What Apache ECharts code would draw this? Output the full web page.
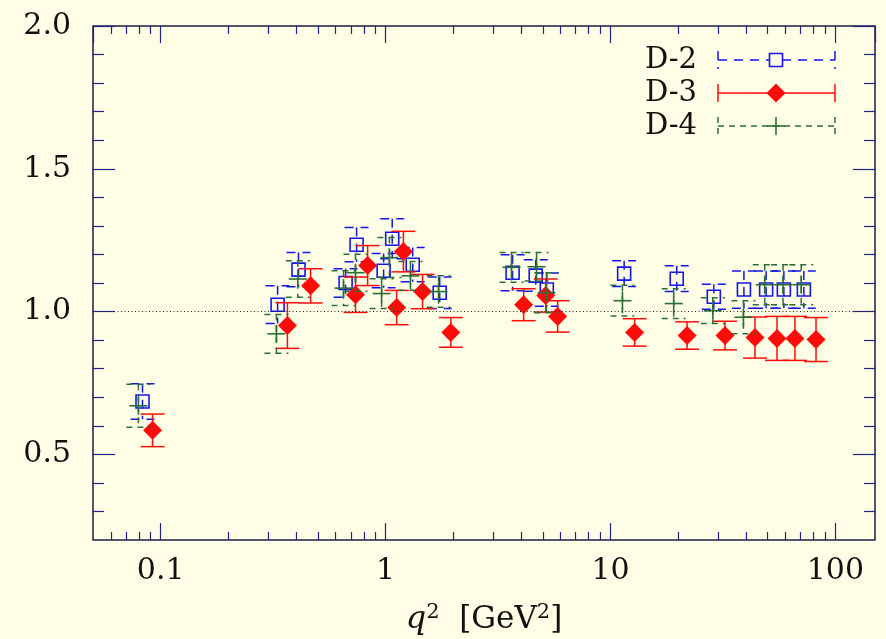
<!DOCTYPE html>
<html>
<head>
<meta charset="utf-8">
<script src="https://cdn.jsdelivr.net/npm/echarts@6/dist/echarts.min.js"></script>
<style>
html,body{margin:0;padding:0;background:#fefee6;}
#chart{width:886px;height:639px;}
</style>
</head>
<body>
<div id="chart"></div>
<script>
// ---- data ----
const d2X = [0.083, 0.331, 0.41, 0.664, 0.743, 0.98, 1.07, 1.32, 1.74, 3.67, 4.65, 5.21, 11.5, 19.7, 28.8, 39.2, 49.2, 59, 72.4];
const d2Y = [0.685, 1.024, 1.147, 1.10, 1.234, 1.143, 1.255, 1.164, 1.066, 1.136, 1.126, 1.077, 1.133, 1.115, 1.052, 1.077, 1.077, 1.077, 1.077];
const d2E = [0.062, 0.066, 0.06, 0.05, 0.06, 0.06, 0.07, 0.06, 0.055, 0.063, 0.055, 0.058, 0.045, 0.045, 0.044, 0.065, 0.065, 0.065, 0.065];

const d3X = [0.092, 0.366, 0.464, 0.735, 0.832, 1.12, 1.20, 1.46, 1.95, 4.11, 5.15, 5.82, 12.8, 21.9, 32.3, 43.9, 55, 66.1, 82];
const d3Y = [0.584, 0.951, 1.09, 1.059, 1.161, 1.014, 1.21, 1.07, 0.927, 1.024, 1.056, 0.983, 0.927, 0.916, 0.916, 0.909, 0.906, 0.906, 0.902];
const d3E = [0.057, 0.08, 0.06, 0.062, 0.07, 0.06, 0.071, 0.06, 0.052, 0.056, 0.058, 0.055, 0.048, 0.048, 0.05, 0.072, 0.077, 0.077, 0.077];

const d4X = [0.0796, 0.327, 0.407, 0.65, 0.735, 0.96, 1.04, 1.29, 1.72, 3.63, 4.69, 5.19, 11.3, 19.1, 28.5, 39, 48.5, 58.5, 70.5];
const d4Y = [0.67, 0.922, 1.114, 1.082, 1.136, 1.063, 1.189, 1.125, 1.07, 1.155, 1.157, 1.066, 1.038, 1.028, 1.003, 0.98, 1.094, 1.094, 1.094];
const d4E = [0.075, 0.068, 0.064, 0.061, 0.065, 0.052, 0.07, 0.05, 0.055, 0.052, 0.05, 0.07, 0.054, 0.052, 0.045, 0.058, 0.07, 0.07, 0.07];

const seriesNames = ['D-2', 'D-3', 'D-4'];
const xMajorTicks = [0.1, 1, 10, 100];
const xMinorTicks = [0.06, 0.07, 0.08, 0.09, 0.2, 0.3, 0.4, 0.5, 0.6, 0.7, 0.8, 0.9,
                     2, 3, 4, 5, 6, 7, 8, 9, 20, 30, 40, 50, 60, 70, 80, 90];
const yMajorTicks = [0.5, 1.0, 1.5, 2.0];
const yMinorTicks = [0.3, 0.4, 0.6, 0.7, 0.8, 0.9, 1.1, 1.2, 1.3, 1.4, 1.6, 1.7, 1.8, 1.9];
const xMin = 0.05, xMax = 150, yMin = 0.2, yMax = 2.0;
const refLine = 1.0;

// ---- styles ----
const FONT = 'DejaVu Serif';
const BLUE = '#1414f0', RED = '#ff0a0a', GREEN = '#2a7035';
const TICK = '#22228f', BORDER = '#1c1c44';
const styles = {
  'D-2': {color: BLUE, dash: [9, 7], marker: 'square'},
  'D-3': {color: RED, dash: null, marker: 'diamond'},
  'D-4': {color: GREEN, dash: [6, 5], marker: 'plus'}
};

function rows(xs, ys, es) {
  return xs.map((x, i) => [x, ys[i], ys[i] - es[i], ys[i] + es[i]]);
}

function markerShapes(kind, cx, cy, color) {
  if (kind === 'square') {
    return [{type: 'rect', shape: {x: cx - 6.5, y: cy - 6.5, width: 13, height: 13},
             style: {fill: 'none', stroke: color, lineWidth: 1.6}}];
  }
  if (kind === 'diamond') {
    return [{type: 'polygon', shape: {points: [[cx, cy - 9.5], [cx + 9.5, cy], [cx, cy + 9.5], [cx - 9.5, cy]]},
             style: {fill: color, stroke: null}}];
  }
  return [
    {type: 'line', shape: {x1: cx - 9, y1: cy, x2: cx + 9, y2: cy}, style: {stroke: color, lineWidth: 1.6}},
    {type: 'line', shape: {x1: cx, y1: cy - 9, x2: cx, y2: cy + 9}, style: {stroke: color, lineWidth: 1.6}}
  ];
}

function makeRender(name) {
  const st = styles[name];
  return function (params, api) {
    const x = api.value(0), y = api.value(1), lo = api.value(2), hi = api.value(3);
    const p = api.coord([x, y]);
    const pl = api.coord([x, lo]);
    const ph = api.coord([x, hi]);
    const cap = 12;
    const ls = {stroke: st.color, lineWidth: 1.5, lineDash: st.dash || null};
    const children = [
      {type: 'line', shape: {x1: p[0], y1: ph[1], x2: p[0], y2: pl[1]}, style: ls},
      {type: 'line', shape: {x1: p[0] - cap, y1: ph[1], x2: p[0] + cap, y2: ph[1]}, style: ls},
      {type: 'line', shape: {x1: p[0] - cap, y1: pl[1], x2: p[0] + cap, y2: pl[1]}, style: ls}
    ].concat(markerShapes(st.marker, p[0], p[1], st.color));
    return {type: 'group', children: children};
  };
}

// legend drawn as graphic (sample error bar + marker)
function legendItem(name, row) {
  const st = styles[name];
  const y = 60 + row * 33;
  const x1 = 718, x2 = 835, xm = 776;
  const ls = {stroke: st.color, lineWidth: 1.5, lineDash: st.dash || null};
  const els = [
    {type: 'text', style: {text: name, x: 697, y: y, align: 'right', verticalAlign: 'middle',
      font: '29px "' + FONT + '"', fill: '#111'}},
    {type: 'line', shape: {x1: x1, y1: y, x2: x2, y2: y}, style: ls},
    {type: 'line', shape: {x1: x1, y1: y - 9, x2: x1, y2: y + 9}, style: ls},
    {type: 'line', shape: {x1: x2, y1: y - 9, x2: x2, y2: y + 9}, style: ls}
  ].concat(markerShapes(st.marker, xm, y, st.color).map(s => {
    if (st.marker === 'square') s.style.fill = '#fefee6';
    return s;
  }));
  return els;
}

const log10 = v => Math.log10(v);
const chart = echarts.init(document.getElementById('chart'), null, {renderer: 'canvas'});

const tickLine = {color: TICK, width: 1.2};
const option = {
  backgroundColor: '#fefee6',
  animation: false,
  grid: {left: 93, top: 26, width: 782, height: 514, show: true, borderColor: BORDER, borderWidth: 1.5,
         backgroundColor: 'transparent', containLabel: false, outerBoundsMode: 'none'},
  xAxis: [
    {type: 'log', logBase: 10, min: xMin, max: xMax, position: 'bottom',
     axisLine: {show: false, onZero: false}, splitLine: {show: false},
     axisTick: {show: true, inside: true, length: 17, lineStyle: tickLine},
     axisLabel: {show: true, margin: 16, color: '#111', fontFamily: FONT, fontSize: 30,
       showMinLabel: false, showMaxLabel: false,
       formatter: function (v) {
         for (const t of xMajorTicks) { if (Math.abs(log10(v) - log10(t)) < 1e-6) return String(t); }
         return '';
       }},
     name: '{i|q}{s|2}  [GeV{s|2}]', nameLocation: 'middle', nameGap: 62,
     nameTextStyle: {color: '#111', fontFamily: FONT, fontSize: 31,
       rich: {i: {fontStyle: 'italic', fontFamily: FONT, fontSize: 32, color: '#111', lineHeight: 36},
              s: {fontFamily: FONT, fontSize: 21, color: '#111', verticalAlign: 'top', lineHeight: 21}}}},
    {type: 'value', min: log10(xMin), max: log10(xMax), position: 'bottom',
     axisLine: {show: false, onZero: false}, splitLine: {show: false}, axisLabel: {show: false},
     axisTick: {show: true, inside: true, length: 8, lineStyle: tickLine, customValues: xMinorTicks.map(log10)}},
    {type: 'log', logBase: 10, min: xMin, max: xMax, position: 'top',
     axisLine: {show: false, onZero: false}, splitLine: {show: false}, axisLabel: {show: false},
     axisTick: {show: true, inside: true, length: 17, lineStyle: tickLine}},
    {type: 'value', min: log10(xMin), max: log10(xMax), position: 'top',
     axisLine: {show: false, onZero: false}, splitLine: {show: false}, axisLabel: {show: false},
     axisTick: {show: true, inside: true, length: 8, lineStyle: tickLine, customValues: xMinorTicks.map(log10)}}
  ],
  yAxis: [
    {type: 'value', min: yMin, max: yMax, position: 'left',
     axisLine: {show: false, onZero: false}, splitLine: {show: false},
     axisTick: {show: true, inside: true, length: 22, lineStyle: tickLine, customValues: yMajorTicks},
     axisLabel: {show: true, margin: 22, color: '#111', fontFamily: FONT, fontSize: 30,
       customValues: yMajorTicks, formatter: v => Number(v).toFixed(1)}},
    {type: 'value', min: yMin, max: yMax, position: 'left',
     axisLine: {show: false, onZero: false}, splitLine: {show: false}, axisLabel: {show: false},
     axisTick: {show: true, inside: true, length: 11, lineStyle: tickLine, customValues: yMinorTicks}},
    {type: 'value', min: yMin, max: yMax, position: 'right',
     axisLine: {show: false, onZero: false}, splitLine: {show: false}, axisLabel: {show: false},
     axisTick: {show: true, inside: true, length: 22, lineStyle: tickLine, customValues: yMajorTicks}},
    {type: 'value', min: yMin, max: yMax, position: 'right',
     axisLine: {show: false, onZero: false}, splitLine: {show: false}, axisLabel: {show: false},
     axisTick: {show: true, inside: true, length: 11, lineStyle: tickLine, customValues: yMinorTicks}}
  ],
  series: [
    {name: 'ref', type: 'line', xAxisIndex: 0, yAxisIndex: 0, data: [], silent: true,
     markLine: {silent: true, symbol: 'none', label: {show: false},
       lineStyle: {type: [1, 2.5], color: '#222', width: 1},
       data: [{yAxis: refLine}]}},
    {name: seriesNames[0], type: 'custom', xAxisIndex: 0, yAxisIndex: 0, renderItem: makeRender('D-2'),
     data: rows(d2X, d2Y, d2E), encode: {x: 0, y: [1, 2, 3]}},
    {name: seriesNames[1], type: 'custom', xAxisIndex: 0, yAxisIndex: 0, renderItem: makeRender('D-3'),
     data: rows(d3X, d3Y, d3E), encode: {x: 0, y: [1, 2, 3]}},
    {name: seriesNames[2], type: 'custom', xAxisIndex: 0, yAxisIndex: 0, renderItem: makeRender('D-4'),
     data: rows(d4X, d4Y, d4E), encode: {x: 0, y: [1, 2, 3]}}
  ],
  graphic: [].concat(
    legendItem(seriesNames[0], 0),
    legendItem(seriesNames[1], 1),
    legendItem(seriesNames[2], 2)
  )
};
chart.setOption(option);
</script>
</body>
</html>
